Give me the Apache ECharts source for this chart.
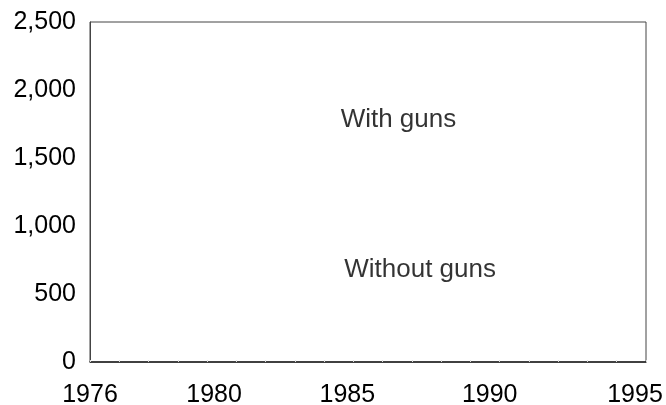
<!DOCTYPE html>
<html><head><meta charset="utf-8">
<script src="https://cdn.jsdelivr.net/npm/echarts@6/dist/echarts.min.js"></script>
<style>html,body{margin:0;padding:0;background:#fff}#c{width:666px;height:405px}</style>
</head><body><div id="c"></div>
<script>
const years = [1976,1977,1978,1979,1980,1981,1982,1983,1984,1985,1986,1987,1988,1989,1990,1991,1992,1993,1994,1995];
const xTickLabels = [1976, 1980, 1985, 1990, 1995];
const yTicks = [0, 500, 1000, 1500, 2000, 2500];
const withGuns = [];
const withoutGuns = [];
const annotationNames = ['With guns', 'Without guns'];
const annotationX = [1986.54, 1987.28];
const annotationY = [1780, 676];

// horizontal nudges of the year labels (styling only), in px
const labelShift = {1976: 0, 1980: 7, 1985: -6, 1990: -10, 1995: -11};

const chart = echarts.init(document.getElementById('c'));
const font = 'Liberation Sans, Arial, sans-serif';
const rich = {};
Object.keys(labelShift).forEach(k => {
  const s = labelShift[k];
  rich['y' + k] = { fontSize: 25, fontFamily: font, color: '#000',
    padding: s >= 0 ? [0, 0, 0, 2 * s] : [0, -2 * s, 0, 0] };
});
chart.setOption({
  animation: false,
  grid: { left: 90, right: 20, top: 22, bottom: 43, containLabel: false, outerBoundsMode: 'none',
    show: true, borderColor: '#444', borderWidth: 1, backgroundColor: '#fff' },
  xAxis: {
    type: 'value', min: years[0], max: years[years.length-1], interval: 1,
    axisLine: { lineStyle: { color: '#222', width: 1.5 } },
    axisTick: { show: true, inside: true, length: 2, lineStyle: { color: '#ddd', width: 1 } },
    splitLine: { show: false },
    axisLabel: { color: '#000', fontSize: 25, fontFamily: font, margin: 21, showMinLabel: true, showMaxLabel: true,
      hideOverlap: false, rich: rich,
      formatter: v => { const y = Math.round(v); return xTickLabels.includes(y) ? '{y' + y + '|' + y + '}' : ''; } }
  },
  yAxis: {
    type: 'value', min: yTicks[0], max: yTicks[yTicks.length-1], interval: 500,
    axisLine: { show: true, lineStyle: { color: '#444', width: 1 } },
    axisTick: { show: false },
    splitLine: { show: false },
    axisLabel: { color: '#000', fontSize: 25, fontFamily: font, margin: 14,
      formatter: v => v.toLocaleString('en-US') }
  },
  series: [
    { type: 'line', name: 'With guns', data: withGuns.map((v,i)=>[years[i], v]), showSymbol: false },
    { type: 'line', name: 'Without guns', data: withoutGuns.map((v,i)=>[years[i], v]), showSymbol: false },
    { type: 'scatter', symbolSize: 0,
      data: annotationNames.map((n,i)=>({ name: n, value: [annotationX[i], annotationY[i]] })),
      label: { show: true, position: 'inside', formatter: p => p.name, color: '#000', fontSize: 26, fontFamily: font } }
  ]
});
</script></body></html>
